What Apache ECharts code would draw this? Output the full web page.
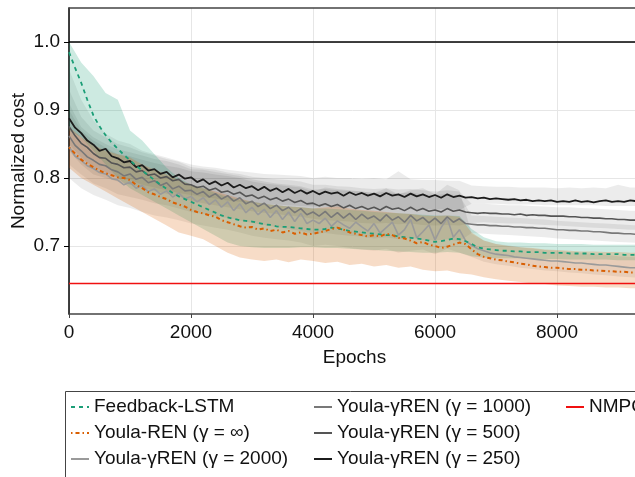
<!DOCTYPE html>
<html>
<head>
<meta charset="utf-8">
<script src="https://cdn.jsdelivr.net/npm/echarts@6/dist/echarts.min.js"></script>
<style>
  html, body { margin: 0; padding: 0; background: #fff; }
  #chart { width: 635px; height: 477px; }
</style>
</head>
<body>
<div id="chart"></div>
<script>
// mean curves sampled every 100 epochs (0..9300)
const epochs = [];
for (let e = 0; e <= 9300; e += 100) epochs.push(e);

const lstmMean = [0.985,0.962,0.940,0.915,0.892,0.876,0.863,0.852,0.843,0.834,
  0.826,0.818,0.811,0.804,0.797,0.790,0.784,0.778,0.773,0.769,
  0.765,0.761,0.757,0.753,0.749,0.745,0.742,0.740,0.738,0.737,
  0.736,0.734,0.732,0.731,0.729,0.728,0.728,0.727,0.726,0.725,
  0.724,0.724,0.725,0.727,0.726,0.724,0.722,0.721,0.720,0.719,
  0.718,0.717,0.716,0.716,0.714,0.713,0.712,0.711,0.710,0.708,
  0.706,0.707,0.709,0.711,0.710,0.707,0.703,0.698,0.696,0.695,
  0.694,0.693,0.693,0.692,0.692,0.691,0.691,0.691,0.690,0.690,
  0.690,0.690,0.689,0.689,0.689,0.689,0.688,0.688,0.688,0.688,
  0.688,0.687,0.687,0.687];
const renMean = [0.845,0.836,0.827,0.821,0.816,0.811,0.807,0.804,0.801,0.800,
  0.797,0.790,0.785,0.779,0.776,0.772,0.769,0.764,0.761,0.758,
  0.753,0.750,0.748,0.745,0.743,0.738,0.735,0.732,0.729,0.727,
  0.728,0.724,0.726,0.722,0.724,0.720,0.722,0.718,0.720,0.717,
  0.718,0.720,0.722,0.725,0.727,0.724,0.720,0.718,0.716,0.714,
  0.716,0.714,0.718,0.716,0.712,0.711,0.708,0.704,0.706,0.702,
  0.700,0.697,0.699,0.702,0.705,0.703,0.695,0.688,0.684,0.682,
  0.680,0.679,0.677,0.676,0.674,0.673,0.671,0.670,0.669,0.668,
  0.668,0.667,0.666,0.666,0.665,0.665,0.664,0.664,0.663,0.663,
  0.662,0.662,0.661,0.661];
const g2000Mean = [0.846,0.832,0.826,0.818,0.814,0.808,0.806,0.799,0.797,0.790,
  0.794,0.785,0.789,0.780,0.784,0.776,0.781,0.772,0.778,0.769,
  0.773,0.765,0.771,0.761,0.768,0.757,0.765,0.752,0.762,0.749,
  0.757,0.746,0.754,0.742,0.752,0.739,0.750,0.736,0.748,0.733,
  0.738,0.733,0.741,0.729,0.737,0.731,0.726,0.735,0.728,0.722,
  0.733,0.719,0.727,0.735,0.716,0.724,0.739,0.712,0.721,0.731,
  0.709,0.727,0.741,0.713,0.724,0.708,0.701,0.696,0.693,0.690,
  0.688,0.687,0.686,0.684,0.683,0.682,0.681,0.680,0.679,0.678,
  0.678,0.677,0.676,0.675,0.675,0.674,0.673,0.672,0.672,0.671,
  0.670,0.669,0.668,0.668];
const g1000Mean = [0.862,0.848,0.840,0.831,0.826,0.820,0.818,0.812,0.809,0.803,
  0.806,0.798,0.801,0.793,0.796,0.789,0.793,0.784,0.788,0.781,
  0.782,0.776,0.780,0.772,0.777,0.769,0.774,0.766,0.771,0.762,
  0.766,0.758,0.763,0.755,0.760,0.752,0.757,0.749,0.755,0.746,
  0.750,0.744,0.751,0.742,0.749,0.741,0.748,0.739,0.747,0.740,
  0.744,0.737,0.746,0.738,0.743,0.735,0.745,0.737,0.742,0.734,
  0.741,0.733,0.743,0.735,0.740,0.733,0.732,0.731,0.731,0.730,
  0.730,0.729,0.729,0.728,0.728,0.727,0.727,0.726,0.726,0.725,
  0.724,0.724,0.723,0.723,0.722,0.722,0.721,0.721,0.720,0.719,
  0.719,0.718,0.718,0.717];
const g500Mean = [0.876,0.862,0.851,0.845,0.836,0.830,0.829,0.822,0.820,0.815,
  0.816,0.809,0.811,0.804,0.806,0.800,0.802,0.796,0.798,0.791,
  0.790,0.786,0.788,0.782,0.785,0.779,0.781,0.776,0.779,0.773,
  0.775,0.770,0.773,0.768,0.771,0.766,0.769,0.764,0.767,0.762,
  0.763,0.759,0.762,0.758,0.761,0.756,0.760,0.755,0.758,0.754,
  0.757,0.753,0.758,0.754,0.756,0.752,0.757,0.752,0.755,0.751,
  0.753,0.750,0.755,0.751,0.753,0.750,0.749,0.748,0.749,0.748,
  0.748,0.747,0.747,0.746,0.747,0.745,0.746,0.745,0.745,0.744,
  0.744,0.744,0.743,0.743,0.742,0.742,0.741,0.741,0.740,0.740,
  0.739,0.739,0.738,0.738];
const g250Mean = [0.888,0.874,0.866,0.855,0.849,0.840,0.843,0.832,0.829,0.823,
  0.825,0.816,0.819,0.811,0.813,0.806,0.809,0.801,0.805,0.799,
  0.801,0.794,0.798,0.791,0.795,0.789,0.793,0.786,0.790,0.785,
  0.788,0.782,0.787,0.781,0.785,0.779,0.784,0.778,0.782,0.777,
  0.781,0.776,0.780,0.777,0.779,0.774,0.779,0.775,0.778,0.774,
  0.777,0.773,0.778,0.774,0.776,0.772,0.777,0.773,0.776,0.772,
  0.775,0.771,0.776,0.772,0.774,0.771,0.772,0.770,0.771,0.769,
  0.770,0.769,0.768,0.769,0.767,0.768,0.766,0.767,0.766,0.767,
  0.765,0.766,0.765,0.767,0.765,0.766,0.764,0.766,0.767,0.765,
  0.766,0.765,0.767,0.766];

// spread bands sampled every 200 epochs (0..9400)
const bandEpochs = [];
for (let e = 0; e <= 9400; e += 200) bandEpochs.push(e);

const lstmLo = [0.87,0.86,0.84,0.82,0.80,0.785,0.775,0.765,0.755,0.745,
  0.735,0.725,0.715,0.705,0.70,0.698,0.697,0.697,0.697,0.698,
  0.698,0.697,0.697,0.696,0.695,0.694,0.693,0.692,0.691,0.690,
  0.690,0.691,0.690,0.685,0.683,0.682,0.682,0.682,0.681,0.681,
  0.681,0.680,0.680,0.680,0.680,0.679,0.679,0.679];
const lstmHi = [1.0,0.97,0.95,0.925,0.915,0.87,0.855,0.835,0.815,0.80,
  0.79,0.785,0.778,0.772,0.768,0.765,0.762,0.76,0.758,0.757,
  0.755,0.755,0.754,0.753,0.752,0.75,0.749,0.748,0.747,0.746,
  0.745,0.745,0.744,0.725,0.713,0.707,0.705,0.705,0.704,0.704,
  0.703,0.703,0.703,0.702,0.702,0.702,0.702,0.702];
const renLo = [0.815,0.80,0.79,0.78,0.77,0.76,0.75,0.74,0.73,0.72,
  0.715,0.71,0.70,0.69,0.683,0.68,0.678,0.68,0.676,0.68,
  0.678,0.675,0.677,0.672,0.674,0.67,0.672,0.668,0.67,0.665,
  0.663,0.664,0.66,0.658,0.654,0.651,0.649,0.647,0.645,0.644,
  0.642,0.641,0.640,0.640,0.639,0.639,0.638,0.638];
const renHi = [0.875,0.86,0.848,0.84,0.835,0.83,0.82,0.812,0.805,0.797,
  0.79,0.785,0.78,0.775,0.77,0.765,0.762,0.76,0.758,0.757,
  0.755,0.757,0.758,0.755,0.753,0.752,0.75,0.748,0.747,0.745,
  0.744,0.745,0.743,0.72,0.708,0.703,0.70,0.698,0.697,0.695,
  0.694,0.693,0.692,0.692,0.691,0.691,0.690,0.690];
const g2000Lo = [0.80,0.785,0.775,0.768,0.76,0.756,0.75,0.745,0.742,0.738,
  0.733,0.73,0.727,0.724,0.72,0.715,0.712,0.71,0.708,0.705,
  0.70,0.702,0.70,0.697,0.695,0.693,0.696,0.69,0.693,0.695,
  0.688,0.696,0.69,0.684,0.677,0.673,0.671,0.668,0.666,0.664,
  0.663,0.661,0.66,0.658,0.657,0.655,0.654,0.653];
const g2000Hi = [0.90,0.87,0.855,0.845,0.835,0.832,0.827,0.822,0.818,0.815,
  0.81,0.808,0.805,0.803,0.80,0.795,0.792,0.79,0.788,0.786,
  0.78,0.786,0.784,0.782,0.78,0.778,0.785,0.776,0.782,0.785,
  0.776,0.79,0.782,0.718,0.708,0.703,0.701,0.698,0.696,0.694,
  0.693,0.691,0.69,0.688,0.687,0.685,0.684,0.683];
const g1000Lo = [0.82,0.805,0.792,0.785,0.776,0.772,0.768,0.763,0.76,0.755,
  0.75,0.747,0.744,0.741,0.738,0.734,0.731,0.728,0.725,0.722,
  0.718,0.719,0.717,0.715,0.714,0.711,0.713,0.71,0.712,0.709,
  0.708,0.71,0.707,0.719,0.718,0.717,0.716,0.715,0.714,0.713,
  0.711,0.71,0.709,0.708,0.707,0.706,0.705,0.704];
const g1000Hi = [0.91,0.875,0.86,0.85,0.842,0.838,0.833,0.828,0.825,0.82,
  0.813,0.812,0.809,0.806,0.803,0.798,0.795,0.792,0.79,0.788,
  0.783,0.784,0.782,0.781,0.78,0.778,0.78,0.777,0.779,0.776,
  0.775,0.777,0.774,0.745,0.744,0.743,0.742,0.741,0.74,0.739,
  0.737,0.736,0.735,0.734,0.733,0.732,0.731,0.73];
const g500Lo = [0.84,0.82,0.805,0.80,0.795,0.79,0.786,0.781,0.777,0.773,
  0.766,0.763,0.76,0.757,0.754,0.751,0.749,0.747,0.745,0.743,
  0.74,0.738,0.737,0.736,0.734,0.733,0.734,0.732,0.733,0.731,
  0.73,0.731,0.73,0.734,0.735,0.734,0.733,0.733,0.732,0.731,
  0.73,0.729,0.728,0.727,0.726,0.725,0.724,0.724];
const g500Hi = [0.93,0.89,0.87,0.86,0.85,0.845,0.838,0.833,0.828,0.824,
  0.816,0.814,0.812,0.808,0.806,0.802,0.80,0.798,0.797,0.795,
  0.79,0.79,0.788,0.787,0.785,0.784,0.785,0.783,0.784,0.782,
  0.78,0.782,0.78,0.762,0.762,0.761,0.76,0.76,0.759,0.758,
  0.757,0.757,0.756,0.755,0.754,0.753,0.752,0.752];
const g250Lo = [0.85,0.83,0.815,0.808,0.80,0.797,0.79,0.786,0.782,0.778,
  0.775,0.772,0.77,0.767,0.765,0.763,0.762,0.761,0.76,0.759,
  0.758,0.758,0.757,0.757,0.756,0.756,0.755,0.755,0.754,0.754,
  0.754,0.754,0.753,0.762,0.762,0.762,0.761,0.761,0.761,0.76,
  0.76,0.76,0.76,0.76,0.759,0.759,0.759,0.759];
const g250Hi = [0.96,0.915,0.885,0.865,0.855,0.85,0.84,0.835,0.83,0.825,
  0.82,0.817,0.815,0.812,0.81,0.808,0.806,0.805,0.804,0.803,
  0.80,0.802,0.80,0.80,0.799,0.80,0.798,0.81,0.798,0.797,
  0.797,0.796,0.796,0.789,0.788,0.787,0.787,0.786,0.786,0.786,
  0.785,0.786,0.785,0.786,0.785,0.79,0.786,0.786];

const baselineCost = 1.0;
const nmpcCost = 0.645;
const xMax = 9360;
const xTicks = [0, 2000, 4000, 6000, 8000];
const yTicks = [0.7, 0.8, 0.9, 1.0];

const FONT = '"Liberation Sans", Arial, sans-serif';
const chart = echarts.init(document.getElementById('chart'));

function pairs(xs, ys) {
  return xs.map((x, i) => [x, ys[i]]);
}

function band(name, lo, hi, fill) {
  return {
    name: name,
    type: 'custom',
    silent: true,
    z: 1,
    data: [0],
    renderItem: function (params, api) {
      const pts = [];
      for (let i = 0; i < bandEpochs.length; i++) pts.push(api.coord([bandEpochs[i], hi[i]]));
      for (let i = bandEpochs.length - 1; i >= 0; i--) pts.push(api.coord([bandEpochs[i], lo[i]]));
      const cs = params.coordSys;
      return {
        type: 'polygon',
        shape: { points: pts },
        style: { fill: fill, stroke: null },
        clipPath: { type: 'rect', shape: { x: cs.x, y: cs.y, width: cs.width, height: cs.height } }
      };
    }
  };
}

function line(name, ys, color, width, type) {
  return {
    name: name,
    type: 'line',
    data: pairs(epochs, ys),
    symbol: 'none',
    showSymbol: false,
    z: 3,
    lineStyle: { color: color, width: width, type: type || 'solid' },
    itemStyle: { color: color }
  };
}

const GREY_BAND = 'rgba(0,0,0,0.075)';
const legendText = { fontFamily: FONT, fontSize: 19, color: '#111', lineHeight: 20 };
const legendBase = {
  orient: 'vertical',
  top: 397,
  itemGap: 6,
  itemWidth: 18,
  itemHeight: 12,
  padding: 0,
  selectedMode: false,
  itemStyle: { opacity: 0 },
  textStyle: legendText
};

chart.setOption({
  animation: false,
  backgroundColor: '#fff',
  grid: { left: 69, right: -5, top: 8, bottom: 163, outerBoundsMode: 'none', containLabel: false },
  xAxis: [{
    type: 'value',
    min: 0,
    max: xMax,
    interval: 2000,
    name: 'Epochs',
    nameLocation: 'middle',
    nameGap: 34,
    nameTextStyle: { fontFamily: FONT, fontSize: 19, color: '#111' },
    axisLine: { show: true, onZero: false, lineStyle: { color: '#444', width: 1.5 } },
    axisTick: { show: true, length: 4, customValues: xTicks, lineStyle: { color: '#444' } },
    axisLabel: {
      fontFamily: FONT, fontSize: 19, color: '#111', margin: 9,
      customValues: xTicks,
      formatter: function (v) { return String(v); }
    },
    splitLine: { show: true, lineStyle: { color: '#e6e6e6', width: 1 } }
  }, {
    type: 'value',
    position: 'top',
    min: 0,
    max: xMax,
    axisLine: { show: true, lineStyle: { color: '#444', width: 1.5 } },
    axisTick: { show: false },
    axisLabel: { show: false },
    splitLine: { show: false }
  }],
  yAxis: {
    type: 'value',
    min: 0.6,
    max: 1.05,
    interval: 0.1,
    name: 'Normalized cost',
    nameLocation: 'middle',
    nameGap: 41,
    nameMoveOverlap: false,
    nameTextStyle: { fontFamily: FONT, fontSize: 19, color: '#111' },
    axisLine: { show: true, lineStyle: { color: '#000', width: 1.5 } },
    axisTick: { show: true, length: 5, customValues: yTicks, lineStyle: { color: '#000' } },
    axisLabel: {
      fontFamily: FONT, fontSize: 19, color: '#111', margin: 9,
      customValues: yTicks,
      formatter: function (v) { return v.toFixed(1); }
    },
    splitLine: { show: true, lineStyle: { color: '#e6e6e6', width: 1 } }
  },
  legend: [
    Object.assign({}, legendBase, { left: 70, data: ['Feedback-LSTM', 'Youla-REN (γ = ∞)', 'Youla-γREN (γ = 2000)'] }),
    Object.assign({}, legendBase, { left: 313, data: ['Youla-γREN (γ = 1000)', 'Youla-γREN (γ = 500)', 'Youla-γREN (γ = 250)'] }),
    Object.assign({}, legendBase, { left: 565, data: ['NMPC'] })
  ],
  graphic: [{
    type: 'rect',
    left: 63,
    top: 389,
    shape: { width: 620, height: 87 },
    style: { fill: 'none', stroke: '#444', lineWidth: 1 }
  }],
  series: [
    band('band-2000', g2000Lo, g2000Hi, GREY_BAND),
    band('band-1000', g1000Lo, g1000Hi, GREY_BAND),
    band('band-500', g500Lo, g500Hi, GREY_BAND),
    band('band-250', g250Lo, g250Hi, GREY_BAND),
    band('band-lstm', lstmLo, lstmHi, 'rgba(27,158,119,0.22)'),
    band('band-ren', renLo, renHi, 'rgba(217,95,2,0.22)'),
    {
      name: 'baseline',
      type: 'line',
      data: [[0, baselineCost], [xMax, baselineCost]],
      symbol: 'none',
      z: 2,
      lineStyle: { color: '#000', width: 1.5 }
    },
    line('Youla-γREN (γ = 2000)', g2000Mean, '#9a9a9a', 1.6),
    line('Youla-γREN (γ = 1000)', g1000Mean, '#787878', 1.6),
    line('Youla-γREN (γ = 500)', g500Mean, '#555555', 1.6),
    line('Youla-γREN (γ = 250)', g250Mean, '#1c1c1c', 1.8),
    line('Feedback-LSTM', lstmMean, '#1b9e77', 1.8, [4, 4]),
    line('Youla-REN (γ = ∞)', renMean, '#d95f02', 2, [1.5, 3, 4, 3]),
    {
      name: 'NMPC',
      type: 'line',
      data: [[0, nmpcCost], [xMax, nmpcCost]],
      symbol: 'none',
      z: 3,
      lineStyle: { color: '#f01010', width: 1.5 },
      itemStyle: { color: '#f01010' }
    }
  ]
});
window.addEventListener('resize', function () {
  chart.resize();
});
</script>
</body>
</html>
